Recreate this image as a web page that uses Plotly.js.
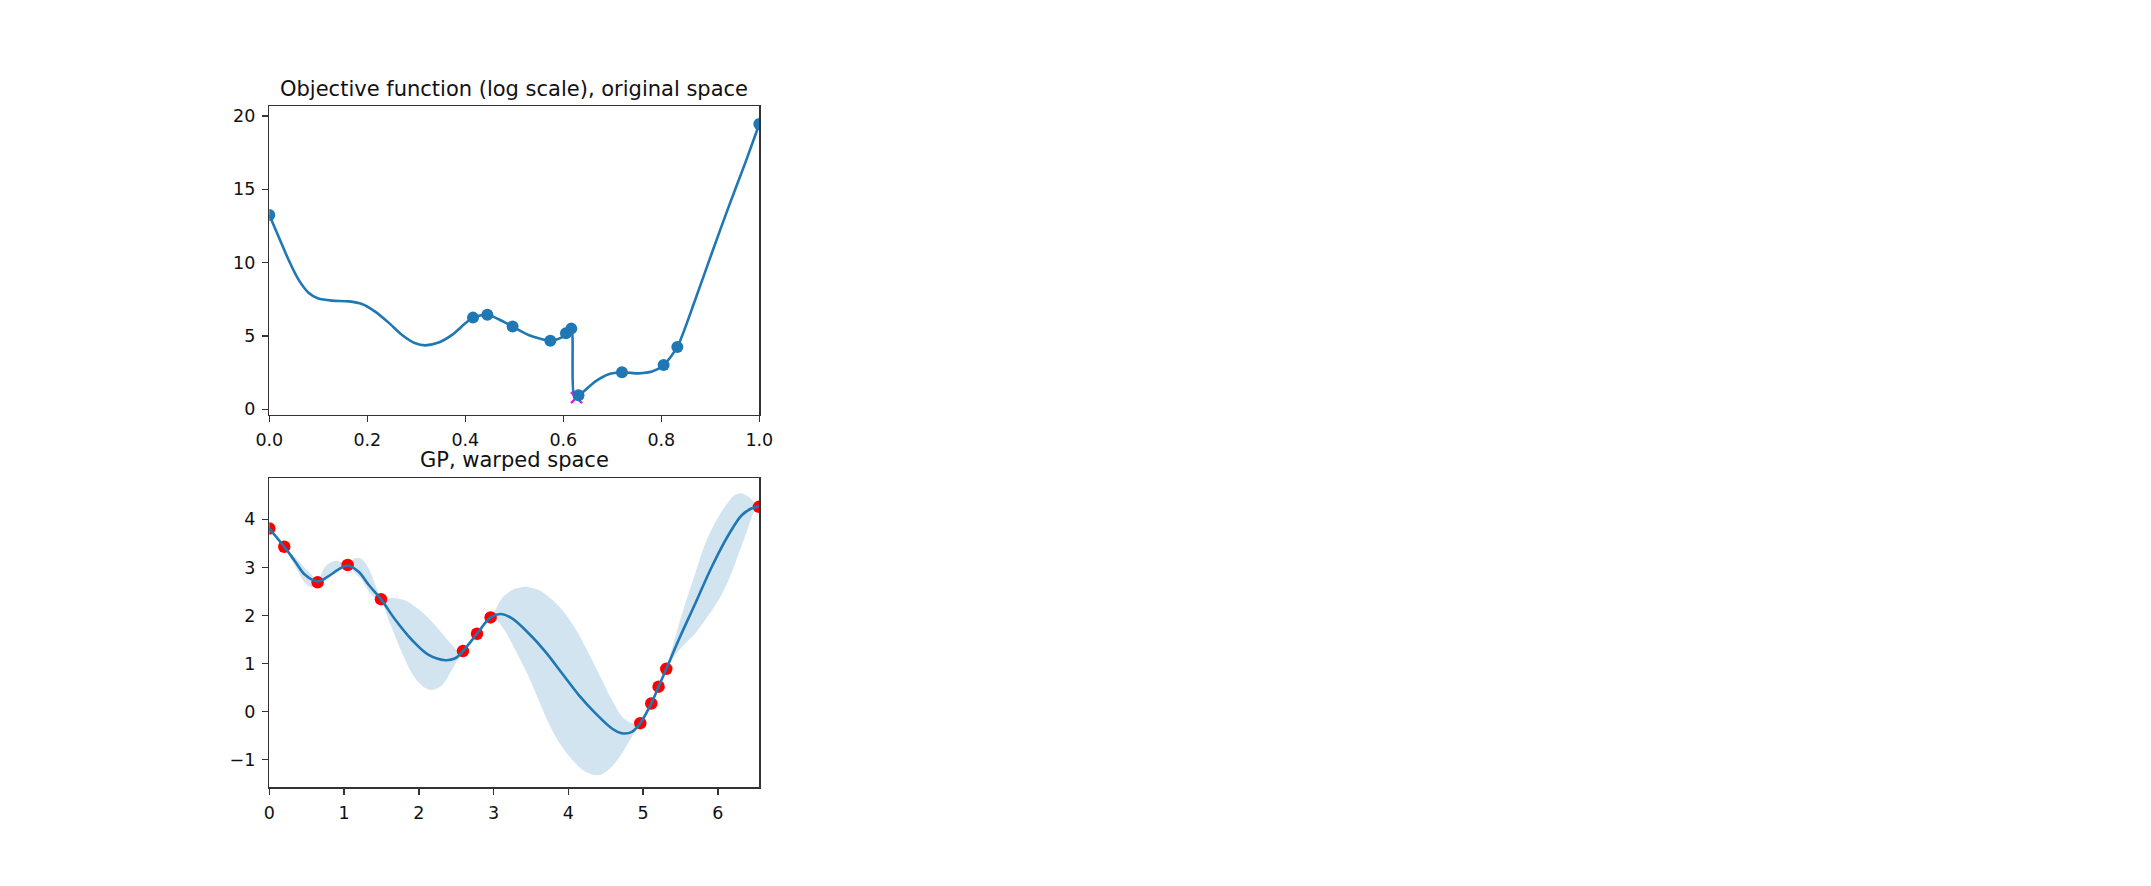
<!DOCTYPE html>
<html>
<head>
<meta charset="utf-8">
<script src="https://cdn.plot.ly/plotly-3.0.1.min.js"></script>
<style>
  body { margin: 0; background: #fff; }
  #chart { width: 2151px; height: 886px; }
</style>
</head>
<body>
<div id="chart"></div>
<script>
// objective function (top panel)
const objX = [0, 0.019, 0.0395, 0.06, 0.08, 0.1, 0.128, 0.162, 0.189, 0.216, 0.2435, 0.271, 0.298, 0.318, 0.3456, 0.373, 0.4, 0.4157, 0.445, 0.468, 0.4966, 0.529, 0.5735, 0.597, 0.6054, 0.6163, 0.622, 0.631, 0.665, 0.6925, 0.7197, 0.754, 0.781, 0.8048, 0.8327, 0.869, 0.903, 0.937, 0.971, 1.0];
const objY = [13.25, 11.77, 10.18, 8.82, 7.95, 7.55, 7.41, 7.36, 7.18, 6.66, 5.91, 5.07, 4.5, 4.36, 4.55, 5.07, 5.86, 6.25, 6.45, 6.14, 5.64, 5.07, 4.68, 4.9, 5.18, 5.5, 0.95, 0.95, 1.89, 2.39, 2.52, 2.45, 2.57, 3.02, 4.25, 7.45, 10.64, 13.77, 16.77, 19.45];

const sampleX = [0, 0.4157, 0.445, 0.4966, 0.5735, 0.6054, 0.6163, 0.631, 0.7197, 0.8048, 0.8327, 1.0];
const sampleY = [13.25, 6.25, 6.45, 5.64, 4.68, 5.18, 5.5, 0.95, 2.52, 3.02, 4.25, 19.45];

const bestX = [0.627];
const bestY = [0.8];

// GP in warped space (bottom panel)
const gpX = [0, 0.2006, 0.3478, 0.4815, 0.6465, 0.7936, 0.9273, 1.0477, 1.1948, 1.3286, 1.4935, 1.6853, 1.9082, 2.1311, 2.354, 2.4877, 2.5903, 2.7775, 2.9603, 3.0896, 3.2457, 3.4686, 3.6915, 3.9144, 4.1373, 4.3602, 4.5831, 4.7169, 4.8506, 4.9621, 5.1092, 5.2073, 5.3099, 5.4748, 5.6977, 5.9206, 6.1435, 6.3219, 6.4556, 6.554];
const gpMean = [3.81, 3.43, 3.12, 2.84, 2.71, 2.82, 2.96, 3.04, 2.91, 2.64, 2.34, 1.91, 1.49, 1.18, 1.07, 1.11, 1.26, 1.62, 1.96, 2.03, 1.94, 1.63, 1.25, 0.80, 0.35, -0.03, -0.35, -0.45, -0.42, -0.24, 0.17, 0.52, 0.89, 1.49, 2.25, 3.02, 3.68, 4.09, 4.23, 4.27];

const bandX = [0, 0.2006, 0.3478, 0.4815, 0.5707, 0.6465, 0.749, 0.8828, 1.0477, 1.1502, 1.2394, 1.3286, 1.4178, 1.4935, 1.596, 1.6853, 1.819, 1.9528, 2.0865, 2.1757, 2.3094, 2.4431, 2.5323, 2.5903, 2.7775, 2.9603, 3.0227, 3.1119, 3.2457, 3.3794, 3.4686, 3.6023, 3.7361, 3.9144, 4.0927, 4.2265, 4.3602, 4.4494, 4.5831, 4.7169, 4.8506, 4.9621, 5.1092, 5.2073, 5.3099, 5.4302, 5.564, 5.6977, 5.8315, 6.0098, 6.1435, 6.2327, 6.3219, 6.4111, 6.4779, 6.554];
const bandUpper = [3.81, 3.45, 3.21, 2.98, 2.84, 2.74, 3.02, 3.14, 3.07, 3.19, 3.17, 2.98, 2.64, 2.36, 2.36, 2.36, 2.31, 2.18, 2.01, 1.87, 1.63, 1.39, 1.25, 1.28, 1.63, 1.98, 2.12, 2.36, 2.53, 2.59, 2.59, 2.53, 2.39, 2.12, 1.73, 1.35, 0.94, 0.66, 0.24, -0.10, -0.24, -0.21, 0.19, 0.53, 0.92, 1.56, 2.25, 2.88, 3.50, 4.06, 4.37, 4.51, 4.54, 4.47, 4.37, 4.28];
const bandLower = [3.81, 3.42, 3.02, 2.67, 2.59, 2.70, 2.77, 2.88, 3.02, 2.88, 2.74, 2.50, 2.36, 2.31, 1.91, 1.56, 1.07, 0.69, 0.49, 0.45, 0.55, 0.87, 1.11, 1.24, 1.60, 1.93, 1.91, 1.77, 1.42, 1.01, 0.73, 0.24, -0.24, -0.73, -1.07, -1.25, -1.32, -1.30, -1.14, -0.87, -0.52, -0.28, 0.16, 0.51, 0.87, 1.18, 1.42, 1.63, 1.91, 2.32, 2.74, 3.09, 3.47, 3.85, 4.13, 4.25];

const obsX = [0, 0.2, 0.646, 1.048, 1.494, 2.59, 2.778, 2.96, 4.962, 5.109, 5.207, 5.31, 6.55];
const obsY = [3.81, 3.43, 2.69, 3.05, 2.34, 1.26, 1.62, 1.96, -0.24, 0.17, 0.52, 0.89, 4.26];

const blue = '#1f77b4';
const W = 2151, H = 886;

const traces = [
  {x: objX, y: objY, mode: 'lines', line: {color: blue, width: 2.6, shape: 'spline', smoothing: 0.7}, xaxis: 'x', yaxis: 'y'},
  {x: bestX, y: bestY, mode: 'markers', marker: {symbol: 'x-thin', size: 11, line: {color: '#e020e0', width: 2.4}}, xaxis: 'x', yaxis: 'y'},
  {x: sampleX, y: sampleY, mode: 'markers', marker: {color: blue, size: 12}, xaxis: 'x', yaxis: 'y'},

  {x: bandX, y: bandUpper, mode: 'lines', line: {width: 0, shape: 'spline'}, xaxis: 'x2', yaxis: 'y2'},
  {x: bandX, y: bandLower, mode: 'lines', line: {width: 0, shape: 'spline'}, fill: 'tonexty', fillcolor: 'rgba(31,119,180,0.2)', xaxis: 'x2', yaxis: 'y2'},
  {x: obsX, y: obsY, mode: 'markers', marker: {color: 'red', size: 12.5}, xaxis: 'x2', yaxis: 'y2'},
  {x: gpX, y: gpMean, mode: 'lines', line: {color: blue, width: 2.6, shape: 'spline'}, xaxis: 'x2', yaxis: 'y2'}
];

function axis(dom, range, extra) {
  return Object.assign({
    domain: dom, range: range, showgrid: false, zeroline: false,
    showline: true, mirror: true, linecolor: '#333', linewidth: 1.4,
    ticks: 'outside', ticklen: 6, tickwidth: 1.4, tickcolor: '#333',
    ticklabelstandoff: 3,
    tickfont: {family: 'DejaVu Sans', size: 17.5, color: '#111'}
  }, extra);
}

const xDom = [269.3 / W, 759.3 / W];

const layout = {
  width: W, height: H,
  margin: {l: 0, r: 0, t: 0, b: 0},
  paper_bgcolor: '#fff', plot_bgcolor: '#fff',
  showlegend: false,
  font: {family: 'DejaVu Sans', color: '#111'},
  xaxis: axis(xDom, [0, 1], {anchor: 'y', tickvals: [0, 0.2, 0.4, 0.6, 0.8, 1.0], tickformat: '.1f'}),
  yaxis: axis([1 - 415 / H, 1 - 106 / H], [-0.39, 20.68], {anchor: 'x', tickvals: [0, 5, 10, 15, 20]}),
  xaxis2: axis(xDom, [0, 6.554], {anchor: 'y2', tickvals: [0, 1, 2, 3, 4, 5, 6]}),
  yaxis2: axis([1 - 787.3 / H, 1 - 478.3 / H], [-1.574, 4.854], {anchor: 'x2', tickvals: [-1, 0, 1, 2, 3, 4]}),
  annotations: [
    {text: 'Objective function (log scale), original space', xref: 'paper', yref: 'paper',
     x: 514.3 / W, y: 1 - 89 / H, xanchor: 'center', yanchor: 'middle', showarrow: false,
     font: {family: 'DejaVu Sans', size: 21, color: '#111'}},
    {text: 'GP, warped space', xref: 'paper', yref: 'paper',
     x: 514.3 / W, y: 1 - 460 / H, xanchor: 'center', yanchor: 'middle', showarrow: false,
     font: {family: 'DejaVu Sans', size: 21, color: '#111'}}
  ]
};

Plotly.newPlot('chart', traces, layout, {staticPlot: true, displayModeBar: false});
</script>
</body>
</html>
